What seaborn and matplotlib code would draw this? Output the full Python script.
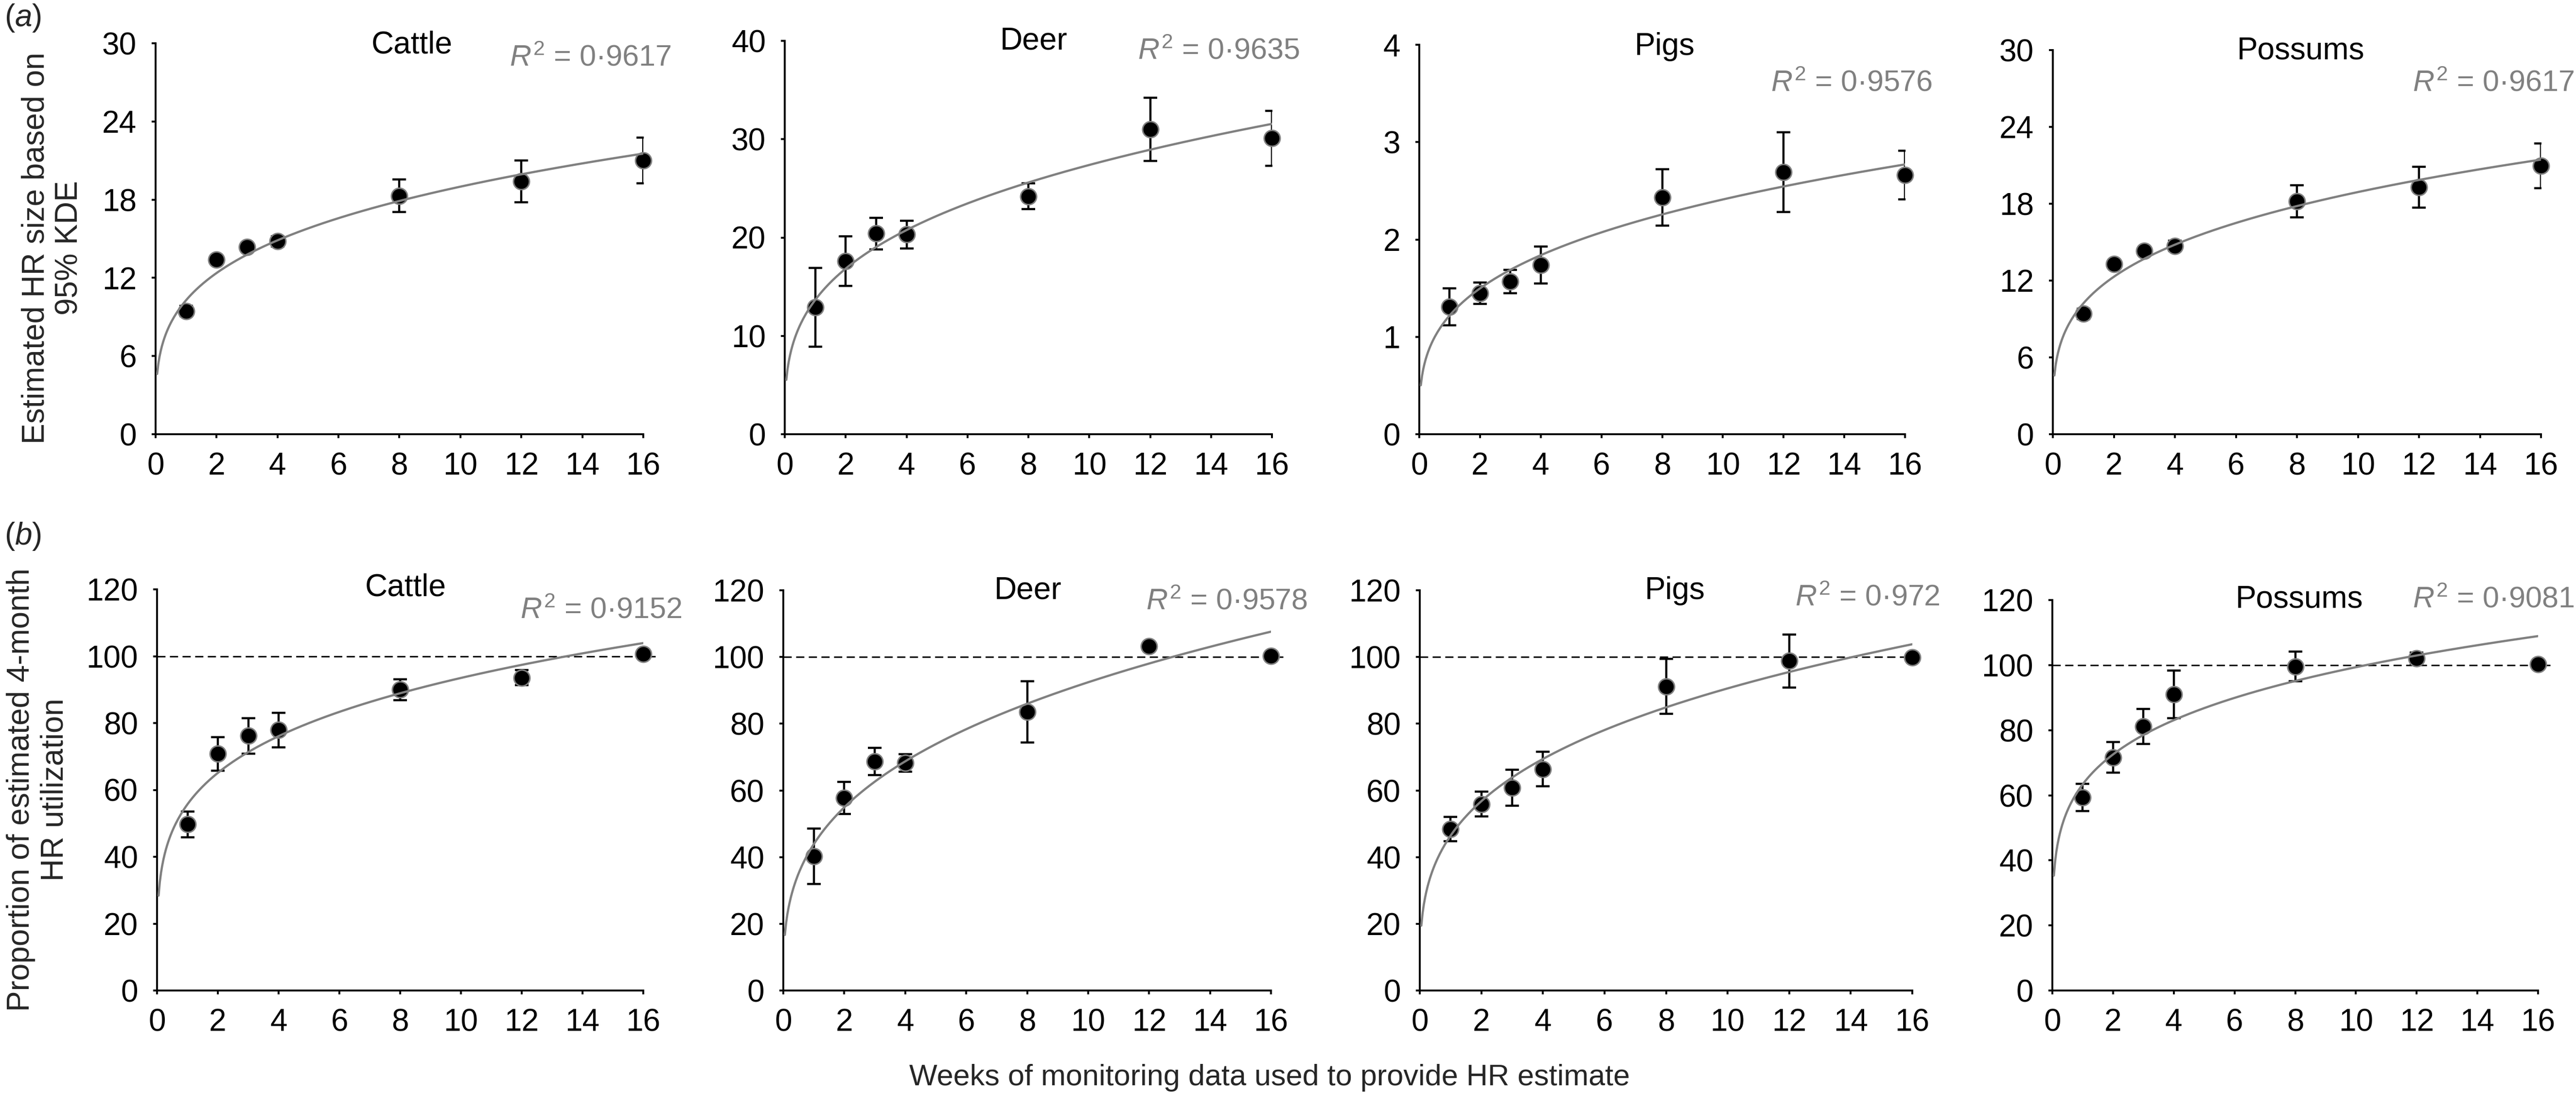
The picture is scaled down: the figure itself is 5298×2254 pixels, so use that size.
import numpy as np
import pandas as pd
import seaborn as sns
import matplotlib.pyplot as plt

# ---- data ----
weeks = [1, 2, 3, 4, 8, 12, 16]
species = ["Cattle", "Deer", "Pigs", "Possums"]

# (a) estimated HR size (95% KDE), mean and error
cattle_size = [9.45, 13.4, 14.35, 14.8, 18.3, 19.4, 21.0]
cattle_size_err = [0.4, 0.3, 0.3, 0.4, 1.25, 1.6, 1.75]
deer_size = [12.9, 17.6, 20.4, 20.3, 24.2, 31.0, 30.1]
deer_size_err = [4.0, 2.5, 1.6, 1.4, 1.3, 3.2, 2.8]
pigs_size = [1.31, 1.45, 1.57, 1.74, 2.43, 2.69, 2.66]
pigs_size_err = [0.19, 0.11, 0.12, 0.19, 0.29, 0.41, 0.25]
possums_size = [9.4, 13.3, 14.3, 14.7, 18.2, 19.3, 20.95]
possums_size_err = [0.4, 0.3, 0.3, 0.4, 1.25, 1.6, 1.75]

# (b) proportion of estimated 4-month HR utilization
cattle_prop = [49.7, 70.8, 76.2, 77.9, 90.0, 93.6, 100.6]
cattle_prop_err = [3.9, 5.0, 5.3, 5.2, 3.1, 2.3, 0.5]
deer_prop = [40.2, 57.7, 68.7, 68.2, 83.6, 103.2, 100.3]
deer_prop_err = [8.3, 4.8, 4.1, 2.6, 9.2, 0.5, 0.5]
pigs_prop = [48.4, 55.9, 60.8, 66.4, 91.2, 98.8, 99.9]
pigs_prop_err = [3.6, 3.7, 5.4, 5.2, 8.3, 8.0, 0.5]
possums_prop = [59.3, 71.6, 81.2, 91.0, 99.6, 102.1, 100.3]
possums_prop_err = [4.2, 4.7, 5.4, 7.3, 4.5, 1.8, 0.5]

r2_size = ["0·9617", "0·9635", "0·9576", "0·9617"]
r2_prop = ["0·9152", "0·9578", "0·972", "0·9081"]
size_ymax = [30, 40, 4, 30]
size_ystep = [6, 10, 1, 6]
full_hr = 100

size_rows = [(cattle_size, cattle_size_err), (deer_size, deer_size_err),
             (pigs_size, pigs_size_err), (possums_size, possums_size_err)]
prop_rows = [(cattle_prop, cattle_prop_err), (deer_prop, deer_prop_err),
             (pigs_prop, pigs_prop_err), (possums_prop, possums_prop_err)]

# ---- layout (pixels of the 5298x2254 canvas) ----
W, H = 5298, 2254
# x0, x1, ytop, ybottom of each plot area
boxes_a = [(320, 1323, 89, 893), (1614, 2616, 84, 893),
           (2919, 3918, 92, 893), (4222, 5226, 103, 893)]
boxes_b = [(323, 1323, 1212, 2037), (1611, 2614, 1214, 2037),
           (2920, 3933, 1214, 2037), (4221, 5220, 1234, 2037)]
title_a = [(847, 110), (2126, 102), (3424, 113), (4732, 122)]
title_b = [(834, 1226), (2114, 1232), (3445, 1232), (4729, 1250)]
r2_a = [(1048, 136), (2340, 122), (3642, 188), (4962, 188)]
r2_b = [(1070, 1272), (2357, 1254), (3692, 1246), (4962, 1250)]

sns.set_theme(style="ticks")
plt.rcParams["font.family"] = ["Liberation Sans", "DejaVu Sans"]
plt.rcParams["mathtext.fontset"] = "custom"
plt.rcParams["mathtext.rm"] = "Liberation Sans"
plt.rcParams["mathtext.it"] = "Liberation Sans:italic"

GREY = "#808080"
TICK = 46

fig = plt.figure(figsize=(W / 100, H / 100), dpi=100)


def fx(x):
    return x / W


def fy(y):
    return 1 - y / H


def power_fit(x, y):
    # same least-squares power trendline as a spreadsheet would draw
    b, lna = np.polyfit(np.log(x), np.log(y), 1)
    xs = np.linspace(0.05, 16, 400)
    return xs, np.exp(lna) * xs ** b


def panel(box, vals, errs, ymax, ystep, dashed):
    x0, x1, yt, yb = box
    ax = fig.add_axes([fx(x0), fy(yb), fx(x1) - fx(x0), fy(yt) - fy(yb)])
    df = pd.DataFrame({"week": weeks, "value": vals, "err": errs})
    if dashed:
        ax.axhline(full_hr, xmin=0, xmax=1.025, color="black", lw=2.2,
                   ls=(0, (5.5, 3)), clip_on=False, zorder=1)
    ax.errorbar(df["week"], df["value"], yerr=df["err"], fmt="none",
                ecolor="black", elinewidth=3.2, capsize=10, capthick=3.2,
                zorder=2)
    sns.scatterplot(data=df, x="week", y="value", ax=ax, s=560, color="black",
                    edgecolor=GREY, linewidth=2.2, zorder=3, clip_on=False)
    xs, ys = power_fit(df["week"], df["value"])
    fit = pd.DataFrame({"week": xs, "value": ys})
    sns.lineplot(data=fit, x="week", y="value", ax=ax, color=GREY, lw=3.3,
                 estimator=None, sort=False, zorder=4)
    ax.set_xlim(0, 16)
    ax.set_ylim(0, ymax)
    ax.set_xticks(range(0, 17, 2))
    ax.set_yticks(np.arange(0, ymax + ystep / 2, ystep))
    ax.set_xlabel("")
    ax.set_ylabel("")
    for s in ["top", "right"]:
        ax.spines[s].set_visible(False)
    for s in ["left", "bottom"]:
        ax.spines[s].set_color("black")
        ax.spines[s].set_linewidth(2.8)
    ax.tick_params(axis="both", direction="out", length=6, width=2.8,
                   colors="black", labelsize=TICK)
    ax.tick_params(axis="x", pad=20)
    ax.tick_params(axis="y", pad=22)
    return ax


for i, sp in enumerate(species):
    v, e = size_rows[i]
    panel(boxes_a[i], v, e, size_ymax[i], size_ystep[i], False)
    v, e = prop_rows[i]
    panel(boxes_b[i], v, e, 120, 20, True)

    for (tx, ty) in [title_a[i], title_b[i]]:
        fig.text(fx(tx), fy(ty), sp, ha="center", va="baseline",
                 fontsize=46, color="black")
    for (rx, ry), lab in [(r2_a[i], r2_size[i]), (r2_b[i], r2_prop[i])]:
        fig.text(fx(rx), fy(ry), r"$R^{2}$ = " + lab, ha="left",
                 va="baseline", fontsize=44, color=GREY)

fig.text(fx(9), fy(54), r"($a$)", ha="left", va="baseline", fontsize=46)
fig.text(fx(9), fy(1120), r"($b$)", ha="left", va="baseline", fontsize=46)

fig.text(fx(108), fy(510), "Estimated HR size based on\n95% KDE",
         rotation=90, ha="center", va="center", multialignment="center",
         fontsize=46)
fig.text(fx(78), fy(1624), "Proportion of estimated 4-month\nHR utilization",
         rotation=90, ha="center", va="center", multialignment="center",
         fontsize=46)
fig.text(fx(2611), fy(2232), "Weeks of monitoring data used to provide HR estimate",
         ha="center", va="baseline", fontsize=44)

fig.savefig("out.png", dpi=100, facecolor="white")
